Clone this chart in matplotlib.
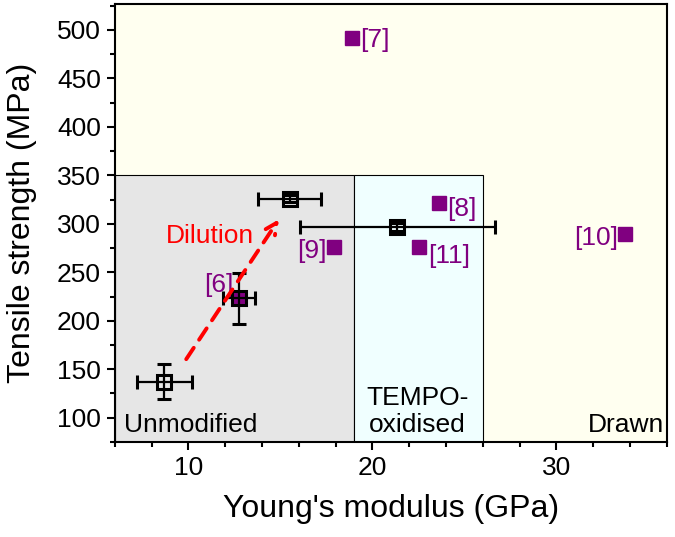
import numpy as np
import matplotlib.pyplot as plt
from matplotlib.patches import Rectangle

plt.rcParams['font.family'] = ['Liberation Sans', 'DejaVu Sans']

# this work (open squares with error bars)
own_x = [8.7, 12.75, 15.5, 21.35]
own_y = [137, 223, 326, 297]
own_xerr = [1.5, 0.85, 1.7, 5.3]
own_yerr = [18, 26, 4, 4]

# literature values (filled purple squares)
ref_labels = ['[6]', '[7]', '[8]', '[9]', '[10]', '[11]']
ref_x = [12.75, 18.9, 23.6, 17.9, 33.75, 22.55]
ref_y = [223, 492, 321, 276, 289, 276]

# shaded regions below 350 MPa
region_names = ['Unmodified', 'TEMPO-\noxidised', 'Drawn']
region_x = [(6, 19), (19, 26)]
region_top = 350
region_col = ['#E6E6E6', '#F0FFFF']

fig = plt.figure(figsize=(6.75, 5.37), dpi=100)
ax = fig.add_axes([0.170, 0.177, 0.818, 0.816])
ax.set_facecolor('#FFFFF0')

for (x0, x1), c in zip(region_x, region_col):
    ax.add_patch(Rectangle((x0, 0), x1 - x0, region_top, facecolor=c,
                           edgecolor='black', lw=0.8, zorder=0))

fs = 19
ax.text(6.5, 85.5, region_names[0], fontsize=fs, ha='left', va='baseline')
ax.text(22.45, 85.5, region_names[1], fontsize=fs, ha='center',
        va='baseline', linespacing=1.15)
ax.text(35.85, 85.5, region_names[2], fontsize=fs, ha='right', va='baseline')

purple = '#800080'
ax.plot(ref_x, ref_y, 's', color=purple, ms=10.5, zorder=3)

# label offsets in data units
offs = {'[6]': (-0.3, 14, 'right'), '[7]': (0.45, -2, 'left'),
        '[8]': (0.45, -6, 'left'), '[9]': (-0.4, -4, 'right'),
        '[10]': (-0.4, -4, 'right'), '[11]': (0.45, -9, 'left')}
for lab, x, y in zip(ref_labels, ref_x, ref_y):
    dx, dy, ha = offs[lab]
    ax.text(x + dx, y + dy, lab, color=purple, fontsize=fs, ha=ha,
            va='center', zorder=4)

ax.errorbar(own_x, own_y, xerr=own_xerr, yerr=own_yerr, fmt='s',
            mfc='none', mec='black', mew=2.2, ms=9.5, ecolor='black',
            elinewidth=1.6, capsize=5, capthick=1.6, zorder=5)

ax.annotate('', xy=(15.0, 307), xytext=(9.8, 158),
            arrowprops=dict(arrowstyle='->', color='red', lw=2.8,
                            linestyle=(0, (3.5, 2.5)), mutation_scale=20),
            zorder=6)
ax.text(11.15, 287, 'Dilution', color='red', fontsize=fs, ha='center',
        va='center')

ax.set_xlim(6, 36)
ax.set_ylim(83, 527)
ax.set_xticks([10, 20, 30])
ax.set_xticks(np.arange(6, 37, 2), minor=True)
ax.set_yticks(np.arange(100, 501, 50))
ax.set_yticks(np.arange(75, 527, 25), minor=True)
ax.tick_params(which='major', direction='out', length=6, width=1.5,
               labelsize=fs, pad=4)
ax.tick_params(which='minor', direction='out', length=3.5, width=1.5)
for s in ax.spines.values():
    s.set_linewidth(1.5)

ax.set_xlabel("Young's modulus (GPa)", fontsize=23, labelpad=10)
ax.set_ylabel('Tensile strength (MPa)', fontsize=23, labelpad=14)

fig.savefig('out.png', dpi=100)
